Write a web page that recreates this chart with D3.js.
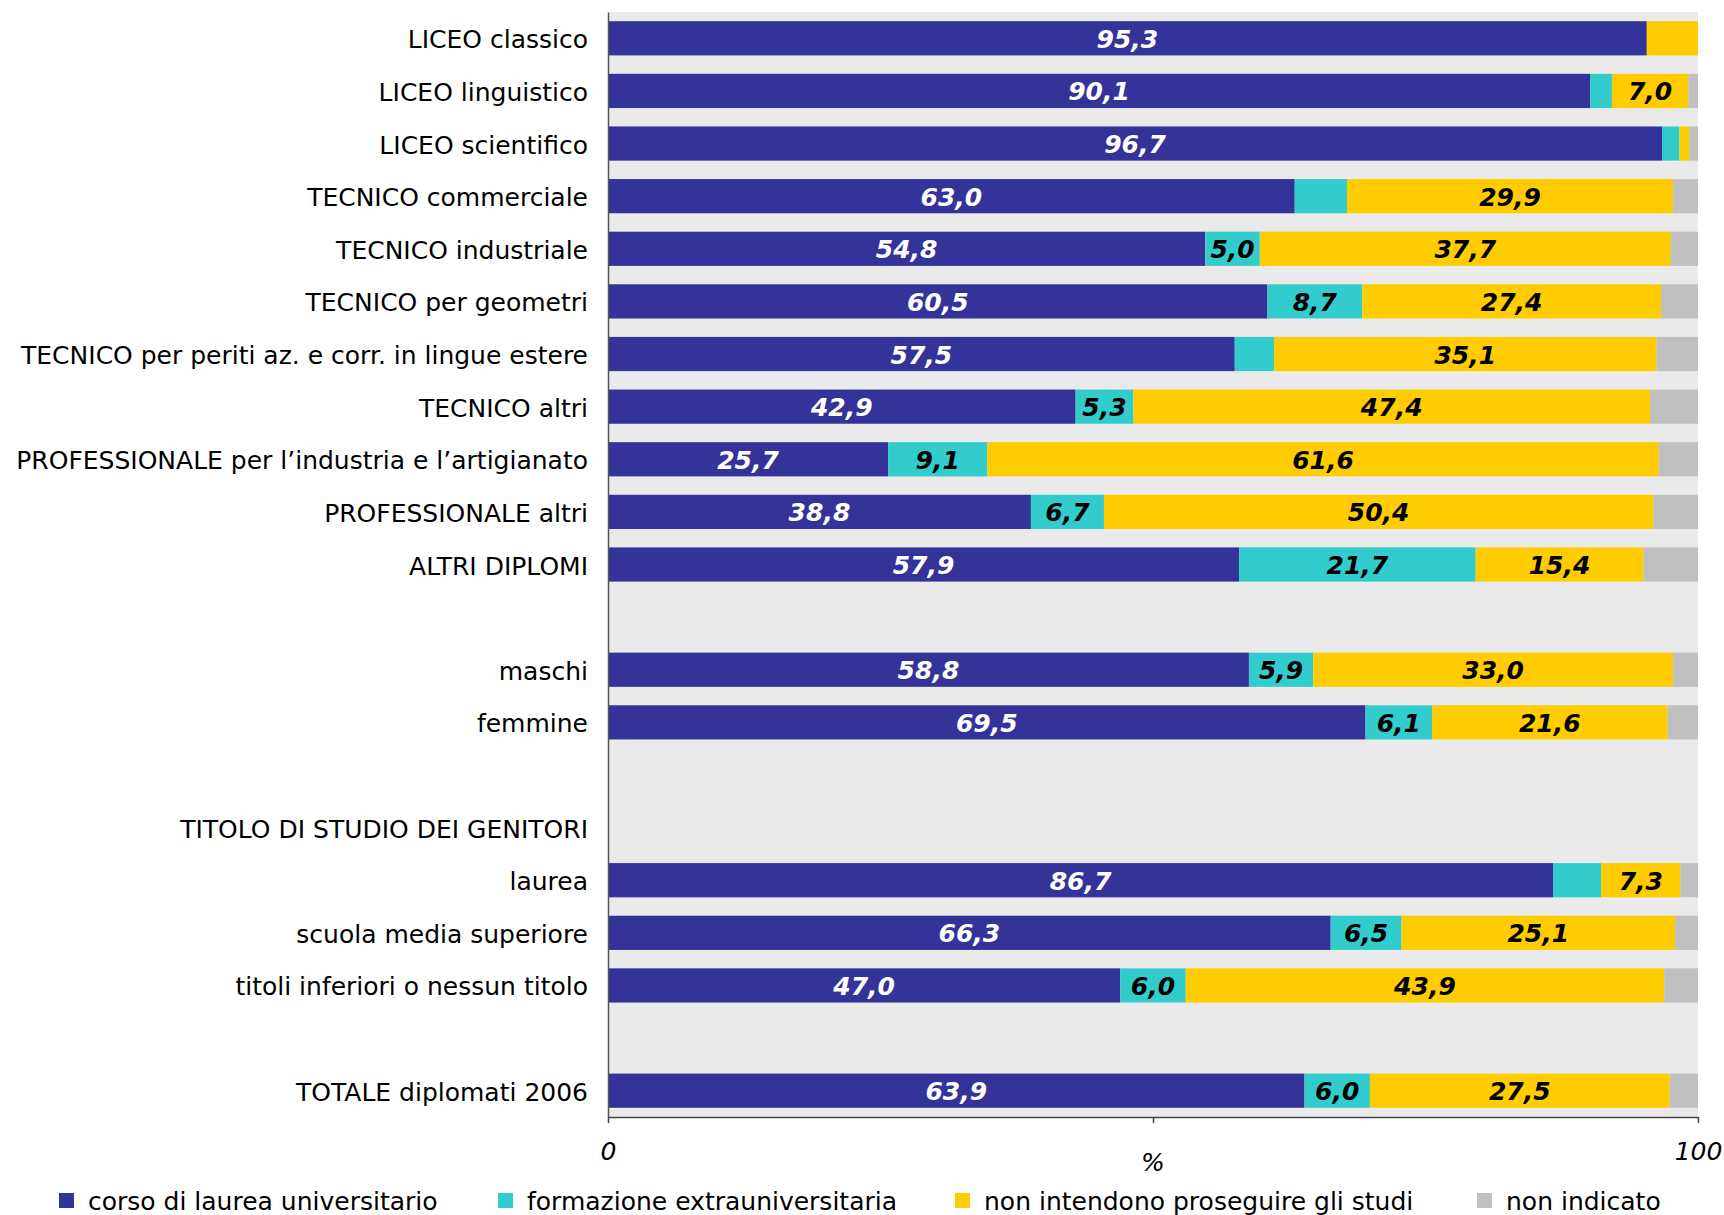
<!DOCTYPE html>
<html>
<head>
<meta charset="utf-8">
<script src="https://cdn.jsdelivr.net/npm/d3@7"></script>
<style>
  body { margin: 0; background: #fff; }
  svg { display: block; font-family: "DejaVu Sans", Verdana, sans-serif; }
</style>
</head>
<body>
<div id="chart"></div>
<script>
// righe del grafico (le stringhe vuote sono righe di separazione)
const categories = [
    "LICEO classico", "LICEO linguistico", "LICEO scientifico",
    "TECNICO commerciale", "TECNICO industriale", "TECNICO per geometri",
    "TECNICO per periti az. e corr. in lingue estere", "TECNICO altri",
    "PROFESSIONALE per l\u2019industria e l\u2019artigianato", "PROFESSIONALE altri",
    "ALTRI DIPLOMI", "",
    "maschi", "femmine", "",
    "TITOLO DI STUDIO DEI GENITORI", "laurea", "scuola media superiore",
    "titoli inferiori o nessun titolo", "",
    "TOTALE diplomati 2006"
];

const seriesNames = [
    "corso di laurea universitario",
    "formazione extrauniversitaria",
    "non intendono proseguire gli studi",
    "non indicato"
];

const universitario = [95.3, 90.1, 96.7, 63.0, 54.8, 60.5, 57.5, 42.9, 25.7, 38.8, 57.9, null, 58.8, 69.5, null, null, 86.7, 66.3, 47.0, null, 63.9];
const extrauniversitaria = [0.0, 2.0, 1.6, 4.8, 5.0, 8.7, 3.6, 5.3, 9.1, 6.7, 21.7, null, 5.9, 6.1, null, null, 4.4, 6.5, 6.0, null, 6.0];
const nonProseguono = [4.7, 7.0, 0.9, 29.9, 37.7, 27.4, 35.1, 47.4, 61.6, 50.4, 15.4, null, 33.0, 21.6, null, null, 7.3, 25.1, 43.9, null, 27.5];
const nonIndicato = [0.0, 0.9, 0.8, 2.3, 2.5, 3.4, 3.8, 4.4, 3.6, 4.1, 5.0, null, 2.3, 2.8, null, null, 1.6, 2.1, 3.1, null, 2.6];

const xTicks = [0, 50, 100];

const colors = ["#333399", "#33CCCC", "#FFCC00", "#C0C0C0"];
const labelColors = ["#ffffff", "#000000", "#000000", null];

const width = 1724, height = 1215;
const margin = { top: 12, right: 26, bottom: 98, left: 608 };

const svg = d3.select("#chart").append("svg")
    .attr("width", width)
    .attr("height", height);

const x = d3.scaleLinear()
    .domain([0, 100])
    .range([margin.left, width - margin.right]);

const y = d3.scaleBand()
    .domain(d3.range(categories.length))
    .range([margin.top, height - margin.bottom])
    .paddingInner(0.35)
    .paddingOuter(0.175);

const it = d3.formatLocale({ decimal: ",", thousands: ".", grouping: [3], currency: ["", "€"] });
const fmt = it.format(".1f");

// sfondo area grafico
svg.append("rect")
    .attr("x", x(0))
    .attr("y", margin.top)
    .attr("width", x(100) - x(0))
    .attr("height", height - margin.bottom - margin.top)
    .attr("fill", "#EAEAEA");

// costruzione delle righe impilate
const rows = categories.map((c, i) => ({
    idx: i,
    values: [universitario[i], extrauniversitaria[i], nonProseguono[i], nonIndicato[i]]
})).filter(r => r.values[0] !== null);

const stack = d3.stack()
    .keys([0, 1, 2, 3])
    .value((r, k) => r.values[k]);
const layers = stack(rows);

const layer = svg.selectAll(".layer")
    .data(layers)
  .enter().append("g")
    .attr("class", "layer")
    .attr("fill", (d, i) => colors[i]);

layer.selectAll("rect")
    .data(d => d)
  .enter().append("rect")
    .attr("x", d => x(d[0]))
    .attr("y", d => y(d.data.idx))
    .attr("width", d => x(d[1]) - x(d[0]))
    .attr("height", y.bandwidth());

layer.each(function(l, k) {
    if (!labelColors[k]) return;
    d3.select(this).selectAll("text")
        .data(l.filter(d => d[1] - d[0] >= 5))
      .enter().append("text")
        .attr("x", d => (x(d[0]) + x(d[1])) / 2)
        .attr("y", d => y(d.data.idx) + y.bandwidth() / 2)
        .attr("dy", "0.38em")
        .attr("text-anchor", "middle")
        .attr("fill", labelColors[k])
        .style("font-size", "25px")
        .style("font-weight", "bold")
        .style("font-style", "italic")
        .text(d => fmt(d.data.values[k]));
});

// asse verticale con le etichette delle categorie
const yAxis = svg.append("g")
    .attr("transform", `translate(${x(0)},0)`)
    .call(d3.axisLeft(y)
        .tickSize(0)
        .tickSizeOuter(0)
        .tickPadding(20)
        .tickFormat(i => categories[i]));
yAxis.select(".domain").attr("stroke", "#555").attr("stroke-width", 1.5);
yAxis.selectAll("text")
    .attr("fill", "#000")
    .attr("dy", "0.4em")
    .style("font-size", "25px")
    .style("font-family", "'DejaVu Sans', Verdana, sans-serif");

// asse orizzontale
const xAxis = svg.append("g")
    .attr("transform", `translate(0,${height - margin.bottom})`)
    .call(d3.axisBottom(x)
        .tickValues(xTicks)
        .tickSize(6)
        .tickSizeOuter(0)
        .tickPadding(19)
        .tickFormat(d => d === 50 ? "" : d));
xAxis.select(".domain").attr("stroke", "#444").attr("stroke-width", 1.5);
xAxis.selectAll(".tick line").attr("stroke", "#444").attr("stroke-width", 1.5);
xAxis.selectAll("text")
    .attr("fill", "#000")
    .style("font-size", "25px")
    .style("font-style", "italic")
    .style("font-family", "'DejaVu Sans', Verdana, sans-serif");

svg.append("text")
    .attr("x", x(50))
    .attr("y", height - margin.bottom + 54)
    .attr("text-anchor", "middle")
    .style("font-size", "25px")
    .style("font-style", "italic")
    .text("%");

// legenda
const legendX = [59, 498, 955, 1477];
const legend = svg.append("g")
    .attr("transform", `translate(0,${1201})`);

const item = legend.selectAll(".item")
    .data(seriesNames)
  .enter().append("g")
    .attr("class", "item")
    .attr("transform", (d, i) => `translate(${legendX[i]},0)`);

item.append("rect")
    .attr("x", 0)
    .attr("y", -8)
    .attr("width", 15)
    .attr("height", 15)
    .attr("fill", (d, i) => colors[i]);

item.append("text")
    .attr("x", 29)
    .attr("dy", "0.35em")
    .style("font-size", "25px")
    .text(d => d);
</script>
</body>
</html>
